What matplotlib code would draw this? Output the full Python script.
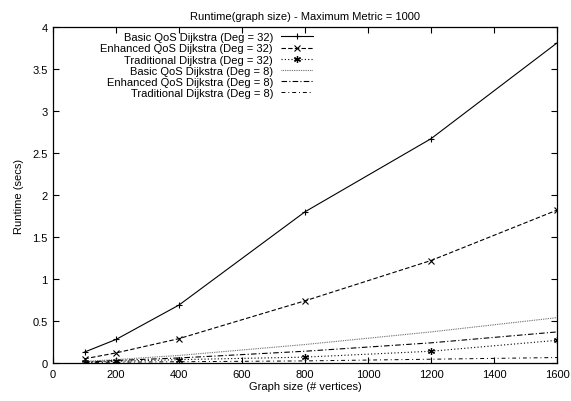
import matplotlib
matplotlib.use("Agg")
import matplotlib.pyplot as plt

plt.rcParams['font.family'] = ['Liberation Sans', 'DejaVu Sans']

sizes = [100, 200, 400, 800, 1200, 1600]
basic32 = [0.13, 0.28, 0.69, 1.80, 2.67, 3.81]
enh32 = [0.05, 0.12, 0.29, 0.74, 1.22, 1.82]
trad32 = [0.01, 0.02, 0.04, 0.07, 0.14, 0.27]
basic8 = [0.02, 0.04, 0.09, 0.22, 0.37, 0.54]
enh8 = [0.01, 0.03, 0.06, 0.14, 0.24, 0.37]
trad8 = [0.005, 0.01, 0.015, 0.025, 0.045, 0.065]

labels = ["Basic QoS Dijkstra (Deg = 32)", "Enhanced QoS Dijkstra (Deg = 32)",
          "Traditional Dijkstra (Deg = 32)", "Basic QoS Dijkstra (Deg = 8)",
          "Enhanced QoS Dijkstra (Deg = 8)", "Traditional Dijkstra (Deg = 8)"]
xticks = [0, 200, 400, 600, 800, 1000, 1200, 1400, 1600]
yticks = [0, 0.5, 1, 1.5, 2, 2.5, 3, 3.5, 4]
ytick_labels = ["0", "0.5", "1", "1.5", "2", "2.5", "3", "3.5", "4"]

fig = plt.figure(figsize=(5.71, 4.02), dpi=100)
ax = fig.add_axes([53/571, 1-364/402, (557-53)/571, (364-28)/402])

lw = 0.8
ax.plot(sizes, basic32, color='black', lw=lw, ls='-', marker='+', ms=5, mew=0.8, label=labels[0])
ax.plot(sizes, enh32, color='black', lw=lw, ls=(0, (4, 2)), marker='x', ms=4, mew=0.8, label=labels[1])
ax.plot(sizes, trad32, color='black', lw=lw, ls=(0, (1, 2)), marker=(6, 2, 0), ms=5, mew=0.9, label=labels[2])
ax.plot(sizes, basic8, color='#555555', lw=lw, ls=(0, (0.7, 0.9)), label=labels[3])
ax.plot(sizes, enh8, color='black', lw=lw, ls=(0, (5, 2, 1, 2)), label=labels[4])
ax.plot(sizes, trad8, color='black', lw=0.7, ls=(0, (4, 3, 1, 3)), label=labels[5])

ax.set_xlim(0, 1600)
ax.set_ylim(0, 4)
ax.set_xticks(xticks)
ax.set_yticks(yticks)
ax.set_yticklabels(ytick_labels)
ax.tick_params(direction='in', top=True, right=True, length=4, width=0.8, labelsize=8, pad=4)
for s in ax.spines.values():
    s.set_linewidth(0.9)

ax.set_xlabel("Graph size (# vertices)", fontsize=8, labelpad=2)
ax.set_ylabel("Runtime (secs)", fontsize=8, labelpad=6)
ax.set_title("Runtime(graph size) - Maximum Metric = 1000", fontsize=8, pad=6)

leg = ax.legend(loc='upper right', bbox_to_anchor=(0.516, 0.984), frameon=False,
                markerfirst=False, fontsize=8, handlelength=2.9, handletextpad=0.7,
                labelspacing=0.1, borderpad=0.0, borderaxespad=0.0)
for t in leg.get_texts():
    t.set_ha('right')
leg._legend_box.align = "right"

fig.savefig("out.png", dpi=100)
